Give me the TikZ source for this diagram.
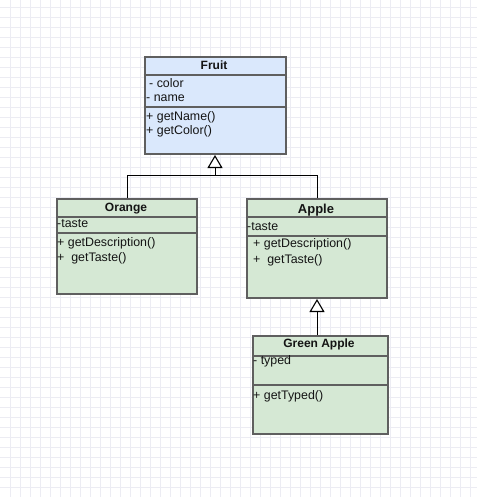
\documentclass[tikz,border=0pt]{standalone}
\usepackage{fontspec}
\setmainfont{Liberation Sans}
\usetikzlibrary{arrows.meta}
\definecolor{bluefill}{HTML}{DAE8FC}
\definecolor{greenfill}{HTML}{D5E8D4}
\definecolor{boxline}{HTML}{5F5F5F}
\definecolor{gridc}{HTML}{ECECF3}
\begin{document}
\begin{tikzpicture}[x=1pt,y=-1pt,
  umlbox/.style={draw=boxline, line width=2pt, rectangle, inner sep=0pt, anchor=north west},
  divider/.style={draw=boxline, line width=2pt},
  txt/.style={anchor=base west, inner sep=0pt, font=\fontsize{12.4}{14}\selectfont, text=black!92},
  title/.style={anchor=base, inner sep=0pt, font=\bfseries\fontsize{12}{14}\selectfont, text=black!92},
  gridline/.style={draw=gridc, line width=0.7pt},
  conn/.style={draw=black, line width=1pt},
  ext/.style={conn, -{Triangle[open, fill=white, length=13pt, width=15pt, line width=1.1pt]}}]
\useasboundingbox (0,0) rectangle (477,497);
\fill[white] (0,0) rectangle (477,497);
% grid
\foreach \x in {10,20,...,470} \draw[gridline] (\x,0) -- (\x,497);
\foreach \y in {7,17,...,497} \draw[gridline] (0,\y) -- (477,\y);
% boxes
\node[umlbox, fill=bluefill, minimum width=141pt, minimum height=97pt] (fruit) at (143.5,56) {};
\node[umlbox, fill=greenfill, minimum width=140pt, minimum height=95pt] (orange) at (56,198) {};
\node[umlbox, fill=greenfill, minimum width=140pt, minimum height=99pt] (apple) at (246,198) {};
\node[umlbox, fill=greenfill, minimum width=135pt, minimum height=98pt] (green) at (252,335) {};
% dividers
\draw[divider] (fruit.west |- 0,75) -- (fruit.east |- 0,75);
\draw[divider] (fruit.west |- 0,107) -- (fruit.east |- 0,107);
\draw[divider] (orange.west |- 0,217) -- (orange.east |- 0,217);
\draw[divider] (orange.west |- 0,233) -- (orange.east |- 0,233);
\draw[divider] (apple.west |- 0,217) -- (apple.east |- 0,217);
\draw[divider] (apple.west |- 0,236) -- (apple.east |- 0,236);
\draw[divider] (green.west |- 0,356) -- (green.east |- 0,356);
\draw[divider] (green.west |- 0,385) -- (green.east |- 0,385);
% connectors
\coordinate (j) at (fruit.south |- 0,175);
\draw[conn] (orange.north) |- (j);
\draw[conn] (apple.north) |- (j);
\draw[ext] (j) -- (fruit.south);
\draw[ext] (apple.south |- green.north) -- (apple.south);
% texts
\node[title] (fruitT) at (214,70) {Fruit};
\node[txt] (fa1) at (149,88) {- color};
\node[txt] (fa2) at (146,102) {- name};
\node[txt] (fm1) at (146,121) {+ getName()};
\node[txt] (fm2) at (146,135) {+ getColor()};
\node[title] (orangeT) at (126,211) {Orange};
\node[txt] (oa1) at (57,227) {-taste};
\node[txt] (om1) at (57,246) {+ getDescription()};
\node[txt] (om2) at (57,261) {+\ \ getTaste()};
\node[title, font=\bfseries\fontsize{13}{15}\selectfont] (appleT) at (316,213) {Apple};
\node[txt] (aa1) at (247,230) {-taste};
\node[txt] (am1) at (253,247) {+ getDescription()};
\node[txt] (am2) at (253,263) {+\ \ getTaste()};
\node[title] (greenT) at (319,347) {Green Apple};
\node[txt] (ga1) at (253,364) {- typed};
\node[txt] (gm1) at (253,399) {+ getTyped()};
\end{tikzpicture}
\end{document}
